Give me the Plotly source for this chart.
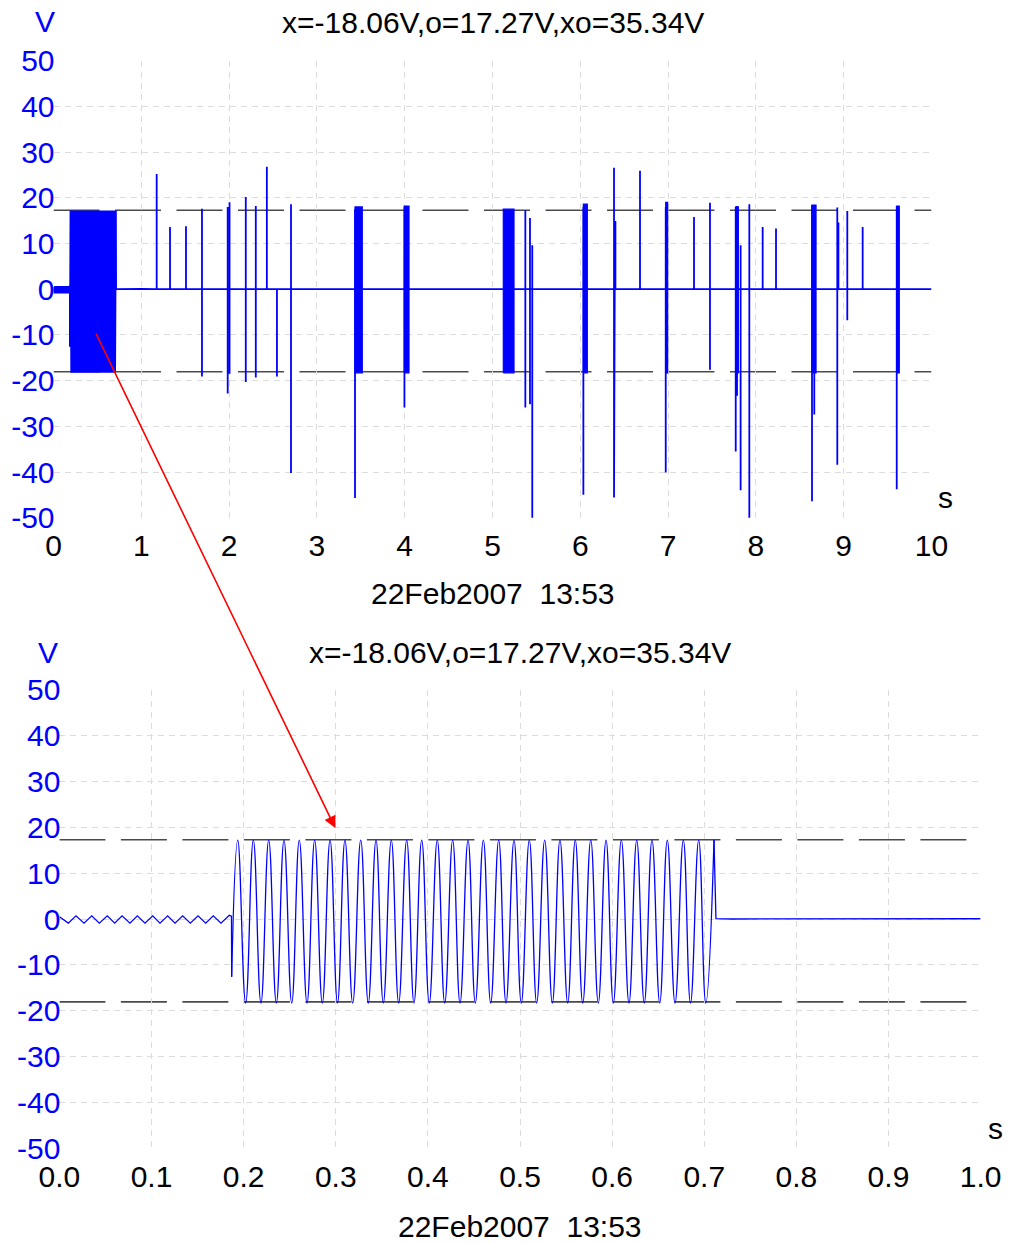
import plotly.graph_objects as go

# ---------------- data ----------------
x_level = -18.06   # lower threshold (V)
o_level = 17.27    # upper threshold (V)
xo_level = 35.34

# zoomed record 0..1 s : pre-burst ripple + lead-in
ripple_t = [0.0, 0.0097, 0.0180, 0.0267, 0.0351, 0.0433, 0.0520, 0.0600, 0.0680,
            0.0766, 0.0846, 0.0929, 0.1013, 0.1092, 0.1175, 0.1255, 0.1338, 0.1421,
            0.1505, 0.1588, 0.1670, 0.1754, 0.1844, 0.1868, 0.1870]
ripple_v = [0.5, -0.9, 0.7, -0.9, 0.7, -0.9, 0.7, -0.9, 0.7,
            -0.9, 0.7, -0.9, 0.7, -0.9, 0.7, -0.9, 0.7, -0.9,
            0.7, -0.9, 0.7, -0.9, 0.8, 0.6, -12.6]

# 60 Hz burst: peak / trough instants (s) and levels (V)
peak_t = [0.1936, 0.2105, 0.2272, 0.2438, 0.2604, 0.2771, 0.2938, 0.3100,
          0.3271, 0.3437, 0.3603, 0.3770, 0.3933, 0.4102, 0.4269, 0.4436,
          0.4602, 0.4769, 0.4935, 0.5101, 0.5268, 0.5434, 0.5600, 0.5768,
          0.5934, 0.6100, 0.6267, 0.6433, 0.6599, 0.6773, 0.6940, 0.7106]
peak_v = [17.2] * 32
trough_t = [0.2022, 0.2188, 0.2355, 0.2522, 0.2688, 0.2854, 0.3019, 0.3184,
            0.3353, 0.3516, 0.3683, 0.3849, 0.4015, 0.4183, 0.4349, 0.4515,
            0.4682, 0.4848, 0.5014, 0.5181, 0.5351, 0.5518, 0.5681, 0.5850,
            0.6013, 0.6183, 0.6349, 0.6517, 0.6683, 0.6851, 0.7017]
trough_v = [-18.3] * 31

# after the burst
tail_t = [0.7106, 0.7127, 0.7300, 0.8000, 0.9000, 1.0000]
tail_v = [17.2, 0.1, 0.0, 0.05, 0.0, 0.05]

# overview record 1..10 s : isolated spikes (time, upper tip, lower tip)
spike_t = [1.175, 1.327, 1.509, 1.691, 1.984, 2.005, 2.190, 2.304, 2.430, 2.545,
           2.705, 3.434, 3.997, 5.374, 5.427, 5.453, 6.035, 6.384, 6.392, 6.400,
           6.680, 6.973, 7.295, 7.477, 7.770, 7.785, 7.826, 7.925, 8.077, 8.229,
           8.639, 8.665, 8.927, 8.940, 9.041, 9.216, 9.604]
spike_hi = [25.2, 13.6, 13.8, 17.6, 18.0, 19.0, 20.2, 18.2, 26.8, 0.0,
            18.6, 17.5, 18.0, 17.3, 15.6, 9.6, 18.0, 26.6, 19.7, 14.9,
            25.9, 18.0, 15.8, 18.9, 18.0, 18.2, 9.6, 18.6, 13.6, 13.3,
            18.4, 18.0, 17.9, 14.6, 17.1, 13.6, 18.2]
spike_lo = [0.0, 0.0, 0.0, -19.1, -22.8, -18.5, -20.3, -19.3, 0.0, -19.1,
            -40.2, -45.7, -25.9, -25.9, -25.2, -50.5, -45.0, -45.6, 0.0, 0.0,
            0.0, -40.1, 0.0, -17.6, -35.5, -23.3, -44.0, -50.5, 0.0, 0.0,
            -46.4, -27.4, -38.4, 0.0, -6.8, 0.0, -43.8]
record_end_t = 10.0

# short dense bursts in the overview (start, end, top, bottom)
burst_t0 = [3.434, 3.995, 5.123, 6.035, 6.973, 7.770, 8.639, 9.604]
burst_t1 = [3.517, 4.049, 5.245, 6.080, 6.995, 7.800, 8.685, 9.633]
burst_hi = [18.0, 18.2, 17.5, 18.6, 19.0, 18.0, 18.4, 18.2]
burst_lo = [-18.3, -18.3, -18.3, -18.3, -18.3, -18.3, -18.3, -18.3]

y_ticks = [50, 40, 30, 20, 10, 0, -10, -20, -30, -40, -50]
y_ticktext = ["50", "40", "30", "20", "10", "0", "-10", "-20", "-30", "-40", "-50"]
x1_ticks = [0, 1, 2, 3, 4, 5, 6, 7, 8, 9, 10]
x2_ticks = [0.0, 0.1, 0.2, 0.3, 0.4, 0.5, 0.6, 0.7, 0.8, 0.9, 1.0]

date_text = "22Feb2007\u00a0 13:53"
title_text = "x=%.2fV,o=%.2fV,xo=%.2fV" % (x_level, o_level, xo_level)

BLUE = "#0000ff"
FONT = "Liberation Sans, Arial, Helvetica, sans-serif"

# ---------------- build series ----------------
sine_t = [ripple_t[-1]]
sine_v = [ripple_v[-1]]
for i in range(len(peak_t)):
    sine_t.append(peak_t[i]); sine_v.append(peak_v[i])
    if i < len(trough_t):
        sine_t.append(trough_t[i]); sine_v.append(trough_v[i])

top_t = ripple_t + sine_t[1:] + tail_t[1:]
top_v = ripple_v + sine_v[1:] + tail_v[1:]
for t, hi, lo in zip(spike_t, spike_hi, spike_lo):
    top_t += [t, t, t, t]
    top_v += [0.0, hi, lo, 0.0]
top_t.append(record_end_t)
top_v.append(0.0)

bx, by = [], []
for t0, t1, hi, lo in zip(burst_t0, burst_t1, burst_hi, burst_lo):
    bx += [t0, t0, t1, t1, t0, None]
    by += [lo, hi, hi, lo, lo, None]

fig = go.Figure()
# top (overview)
fig.add_trace(go.Scatter(x=top_t, y=top_v, mode="lines", xaxis="x", yaxis="y",
                         line=dict(color=BLUE, width=1.8), hoverinfo="skip"))
fig.add_trace(go.Scatter(x=bx, y=by, mode="lines", fill="toself", fillcolor=BLUE,
                         xaxis="x", yaxis="y", line=dict(color=BLUE, width=1.2),
                         hoverinfo="skip"))
# bottom (zoom)
fig.add_trace(go.Scatter(x=ripple_t, y=ripple_v, mode="lines", xaxis="x2", yaxis="y2",
                         line=dict(color=BLUE, width=1.3), hoverinfo="skip"))
fig.add_trace(go.Scatter(x=sine_t, y=sine_v, mode="lines", xaxis="x2", yaxis="y2",
                         line=dict(color=BLUE, width=1.3, shape="spline", smoothing=1.3),
                         hoverinfo="skip"))
fig.add_trace(go.Scatter(x=tail_t, y=tail_v, mode="lines", xaxis="x2", yaxis="y2",
                         line=dict(color=BLUE, width=1.3), hoverinfo="skip"))

W, H = 1013, 1243
top_dom_x = [53.5 / W, 931.5 / W]
top_dom_y = [1 - 517.7 / H, 1 - 60.7 / H]
bot_dom_x = [59.4 / W, 980.6 / W]
bot_dom_y = [1 - 1148.5 / H, 1 - 689.5 / H]

grid = dict(showgrid=True, gridcolor="#dcdcdc", griddash="6px,5px", gridwidth=1,
            zeroline=False, showline=False, ticks="", automargin=False)

fig.update_layout(
    width=W, height=H, autosize=False,
    margin=dict(l=0, r=0, t=0, b=0, autoexpand=False),
    paper_bgcolor="white", plot_bgcolor="white",
    showlegend=False,
    font=dict(family=FONT, size=30, color="black"),
    xaxis=dict(domain=top_dom_x, range=[0, 10], anchor="y", tickvals=x1_ticks,
               ticktext=[str(v) for v in x1_ticks],
               tickfont=dict(size=30, color="black"), ticklabelstandoff=7, **grid),
    yaxis=dict(domain=top_dom_y, range=[-50, 50], anchor="x", tickvals=y_ticks,
               ticktext=y_ticktext, tickfont=dict(size=30, color=BLUE),
               ticklabelstandoff=-2, **grid),
    xaxis2=dict(domain=bot_dom_x, range=[0, 1], anchor="y2", tickvals=x2_ticks,
                ticktext=["%.1f" % v for v in x2_ticks],
                tickfont=dict(size=30, color="black"), ticklabelstandoff=7, **grid),
    yaxis2=dict(domain=bot_dom_y, range=[-50, 50], anchor="x2", tickvals=y_ticks,
                ticktext=y_ticktext, tickfont=dict(size=30, color=BLUE),
                ticklabelstandoff=-2, **grid),
)

thr_line = dict(color="#4a4a4a", width=1.6, dash="46px,15.5px")
for xr, yr, xend in (("x", "y", 10), ("x2", "y2", 1)):
    for lvl in (o_level, x_level):
        fig.add_shape(type="line", xref=xr, yref=yr, x0=0, x1=xend, y0=lvl, y1=lvl,
                      line=thr_line, layer="below")

def ann(text, x, y, xref="paper", color="black", size=30, xanchor="center"):
    fig.add_annotation(text=text, x=x, y=y, xref=xref, yref="paper", showarrow=False,
                       font=dict(family=FONT, size=size, color=color),
                       xanchor=xanchor, yanchor="middle")

ann(title_text, 0.5, 1 - 22 / H, xref="x domain")
ann("V", 45 / W, 1 - 21 / H, color=BLUE)
ann("s", 945 / W, 1 - 498 / H)
ann(date_text, 0.5, 1 - 593 / H, xref="x domain")

ann(title_text, 0.5, 1 - 652 / H, xref="x2 domain")
ann("V", 48 / W, 1 - 652 / H, color=BLUE)
ann("s", 995 / W, 1 - 1128 / H)
ann(date_text, 0.5, 1 - 1226 / H, xref="x2 domain")

# red pointer from the overview burst to the zoom
fig.add_annotation(x=0.2995, y=19.8, xref="x2", yref="y2", text="", showarrow=True,
                   ax=-240, ay=-496, axref="pixel", ayref="pixel",
                   arrowhead=2, arrowsize=1.5, arrowwidth=1.6, arrowcolor="#ff0000",
                   standoff=0)

fig.write_html("out.html")
